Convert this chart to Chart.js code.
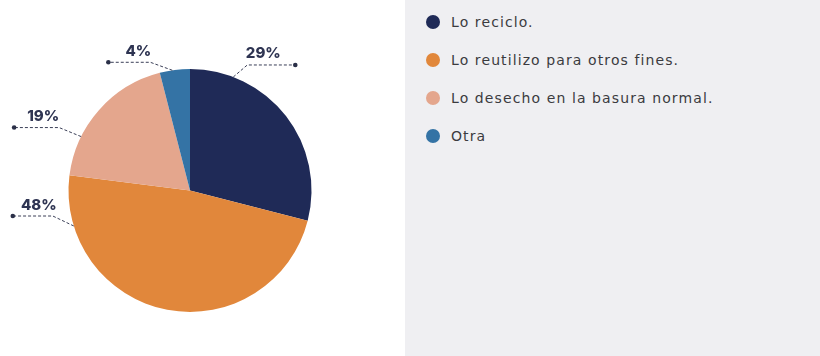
<!DOCTYPE html>
<html lang="es">
<head>
<meta charset="utf-8">
<title>Destino del residuo</title>
<script src="https://cdn.jsdelivr.net/npm/chart.js@4/dist/chart.umd.min.js"></script>
<style>
  html, body { margin: 0; padding: 0; background: #fff; }
  #wrap {
    position: relative;
    width: 820px;
    height: 356px;
    background: linear-gradient(to right, #ffffff 405px, #efeff2 405px);
    overflow: hidden;
  }
  #pieBox { position: absolute; left: 0; top: 0; width: 405px; height: 356px; }
  #legend {
    position: absolute;
    left: 426px;
    top: 13px;
    margin: 0;
    padding: 0;
    list-style: none;
    font-family: "DejaVu Sans", sans-serif;
    font-size: 14px;
    letter-spacing: 1.1px;
    color: #3b3b3f;
  }
  #legend li { display: flex; align-items: center; height: 18px; margin-bottom: 20px; }
  #legend .dot { width: 14px; height: 14px; border-radius: 50%; margin-right: 11px; flex: none; }
</style>
</head>
<body>
<div id="wrap">
  <div id="pieBox"><canvas id="pieChart" width="405" height="356"></canvas></div>
  <ul id="legend"></ul>
</div>
<script>
const categories = ['Lo reciclo.', 'Lo reutilizo para otros fines.', 'Lo desecho en la basura normal.', 'Otra'];
const shares = [29, 48, 19, 4];
const sliceColors = ['#1f2a57', '#e1873b', '#e4a68d', '#3473a5'];

// where each leader line leaves its slice and which way it runs
const leaderLayout = [
  { frac: 0.20, dx: 14, dy: -12, len: 48, tx: 16 },
  { frac: 0.86, dx: -21, dy: -10, len: -40, tx: -14 },
  { frac: 0.28, dx: -22, dy: -9, len: -45, tx: -16 },
  { frac: 0.42, dx: -22, dy: -8, len: -42, tx: -12 },
];

const leaderLabels = {
  id: 'leaderLabels',
  afterDatasetsDraw(chart) {
    const ctx = chart.ctx;
    const meta = chart.getDatasetMeta(0);
    meta.data.forEach((arc, i) => {
      const p = arc.getProps(['x', 'y', 'startAngle', 'endAngle', 'outerRadius'], true);
      const lay = leaderLayout[i];
      const a = p.startAngle + lay.frac * (p.endAngle - p.startAngle);
      const ax = p.x + Math.cos(a) * p.outerRadius;
      const ay = p.y + Math.sin(a) * p.outerRadius;
      const ex = ax + lay.dx;
      const ey = ay + lay.dy;
      const endX = ex + lay.len;

      ctx.save();
      ctx.strokeStyle = '#3a3f57';
      ctx.lineWidth = 1;
      ctx.setLineDash([3, 2]);
      ctx.beginPath();
      ctx.moveTo(ax, ay);
      ctx.lineTo(ex, ey);
      ctx.lineTo(endX, ey);
      ctx.stroke();
      ctx.setLineDash([]);
      ctx.fillStyle = '#2b3048';
      ctx.beginPath();
      ctx.arc(endX, ey, 2.3, 0, Math.PI * 2);
      ctx.fill();

      ctx.font = '800 15px Inter, sans-serif';
      ctx.fillStyle = '#2e3452';
      ctx.textAlign = 'center';
      ctx.textBaseline = 'middle';
      ctx.fillText(chart.data.datasets[0].data[i] + '%', ex + lay.tx, ey - 11);
      ctx.restore();
    });
  }
};

const chart = new Chart(document.getElementById('pieChart').getContext('2d'), {
  type: 'pie',
  data: {
    labels: categories,
    datasets: [{
      data: shares,
      backgroundColor: sliceColors,
      borderWidth: 0,
    }],
  },
  options: {
    responsive: false,
    animation: false,
    layout: { padding: { top: 69, bottom: 44, left: 68, right: 93 } },
    plugins: {
      legend: { display: false },
      tooltip: { enabled: false },
    },
  },
  plugins: [leaderLabels],
});

// legend list in the grey panel, built from the chart's own legend items
const legendEl = document.getElementById('legend');
Chart.overrides.pie.plugins.legend.labels.generateLabels(chart).forEach(item => {
  const li = document.createElement('li');
  const dot = document.createElement('span');
  dot.className = 'dot';
  dot.style.background = item.fillStyle;
  const txt = document.createElement('span');
  txt.textContent = item.text;
  li.appendChild(dot);
  li.appendChild(txt);
  legendEl.appendChild(li);
});
</script>
</body>
</html>
